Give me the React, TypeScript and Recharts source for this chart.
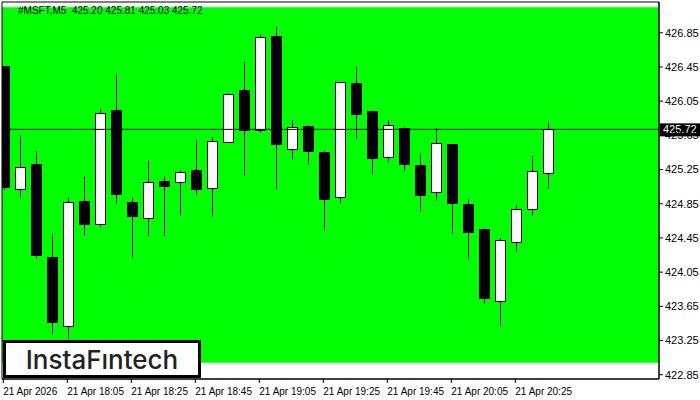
import {
  ComposedChart,
  Bar,
  XAxis,
  YAxis,
  ReferenceLine,
  ReferenceArea,
} from 'recharts';

// M5 candles, 21 Apr 17:45 .. 20:35
const opens = [
  426.46, 425.02, 425.31, 424.23, 423.42, 424.88, 424.61, 425.95, 424.87, 424.68,
  425.12, 425.1, 425.25, 425.03, 425.57, 426.18, 425.71, 426.81, 425.49, 425.76,
  425.46, 424.93, 426.26, 425.93, 425.4, 425.74, 425.3, 424.99, 425.55, 424.85,
  424.56, 423.72, 424.4, 424.78, 425.2,
];
const highs = [
  426.46, 425.65, 425.46, 424.5, 424.92, 425.17, 425.96, 426.37, 424.93, 425.36,
  425.17, 425.24, 425.59, 425.63, 426.14, 426.51, 426.83, 426.92, 425.83, 425.77,
  425.47, 426.27, 426.45, 425.94, 425.83, 425.74, 425.43, 425.73, 425.55, 424.9,
  424.56, 424.45, 424.83, 425.41, 425.81,
];
const lows = [
  425.01, 424.92, 424.21, 423.33, 423.27, 424.48, 424.58, 424.85, 424.22, 424.47,
  424.47, 424.71, 424.95, 424.7, 425.56, 425.18, 425.68, 425.02, 425.37, 425.31,
  424.54, 424.85, 425.61, 425.2, 425.34, 425.23, 424.76, 424.89, 424.5, 424.2,
  423.68, 423.42, 424.29, 424.71, 425.03,
];
const closes = [
  425.03, 425.28, 424.23, 423.46, 424.87, 424.6, 425.91, 424.95, 424.69, 425.1,
  425.05, 425.22, 425.02, 425.58, 426.13, 425.7, 426.8, 425.53, 425.75, 425.46,
  424.9, 426.27, 425.89, 425.37, 425.77, 425.31, 424.94, 425.56, 424.85, 424.51,
  423.74, 424.43, 424.79, 425.23, 425.72,
];

const timeTicks = [0, 4, 8, 12, 16, 20, 24, 28, 32];
const timeLabels = [
  '21 Apr 2026',
  '21 Apr 18:05',
  '21 Apr 18:25',
  '21 Apr 18:45',
  '21 Apr 19:05',
  '21 Apr 19:25',
  '21 Apr 19:45',
  '21 Apr 20:05',
  '21 Apr 20:25',
];
const priceTicks = [
  422.85, 423.25, 423.65, 424.05, 424.45, 424.85, 425.25, 425.65, 426.05, 426.45, 426.85,
];
const lastPrice = 425.72;
const yMin = 422.8;
const yMax = 427.21;
const xMin = -0.08;
const xMax = 40.98;

const data = opens.map((o, i) => ({
  i,
  open: o,
  high: highs[i],
  low: lows[i],
  close: closes[i],
}));

const FONT = '"Liberation Sans", "DejaVu Sans", sans-serif';

const Candle = (props: any) => {
  const { x, width, y, height, payload } = props;
  if (payload == null || y == null) return null;
  const cx = Math.round(x + width / 2) + 0.5;
  const { open, high, low, close } = payload;
  const py = (p: number) => y + ((high - p) / (high - low)) * height;
  const top = py(Math.max(open, close));
  const bot = py(Math.min(open, close));
  const up = close >= open;
  return (
    <g>
      <line x1={cx} x2={cx} y1={y} y2={y + height} stroke="#000" strokeWidth={1} />
      {up ? (
        <rect
          x={cx - 5}
          y={Math.round(top) + 0.5}
          width={10}
          height={Math.max(1, Math.round(bot - top))}
          fill="#fff"
          stroke="#000"
          strokeWidth={1}
        />
      ) : (
        <rect
          x={cx - 5.5}
          y={Math.round(top)}
          width={11}
          height={Math.max(1, Math.round(bot - top))}
          fill="#000"
        />
      )}
    </g>
  );
};

const TimeTick = (props: any) => {
  const { x, y, payload } = props;
  const idx = timeTicks.indexOf(payload.value);
  return (
    <text x={x} y={y + 10} fontSize={10} fontFamily={FONT} fill="#000" textAnchor="start">
      {timeLabels[idx]}
    </text>
  );
};

const PriceLabel = (props: any) => {
  const { viewBox } = props;
  const x = viewBox.x + viewBox.width + 1;
  const y = viewBox.y;
  return (
    <g>
      <rect x={x} y={y - 6} width={40} height={13} fill="#000" />
      <text x={x + 3} y={y + 4} fontSize={11} fontFamily={FONT} fill="#fff">
        {lastPrice.toFixed(2)}
      </text>
    </g>
  );
};

export default function App() {
  return (
    <div style={{ position: 'absolute', left: 0, top: 0, width: 700, height: 400, background: '#fff' }}>
      <ComposedChart
        width={700}
        height={400}
        data={data}
        margin={{ top: 2, right: 0, bottom: 0, left: 2 }}
      >
        <ReferenceArea y1={422.99} y2={427.15} fill="#00ff00" fillOpacity={1} stroke="none" />
        <XAxis
          dataKey="i"
          type="number"
          domain={[xMin, xMax]}
          ticks={timeTicks}
          interval={0}
          height={21}
          tick={<TimeTick />}
          tickSize={4}
          axisLine={{ stroke: '#000' }}
          tickLine={{ stroke: '#000' }}
          allowDataOverflow
        />
        <YAxis
          orientation="right"
          type="number"
          domain={[yMin, yMax]}
          ticks={priceTicks}
          interval={0}
          width={41}
          tickSize={4}
          tickMargin={2}
          tick={{ fontSize: 11, fontFamily: FONT, fill: '#000' }}
          tickFormatter={(v: number) => v.toFixed(2)}
          axisLine={{ stroke: '#000' }}
          tickLine={{ stroke: '#000' }}
          allowDataOverflow
        />
        <Bar
          dataKey={(d: any) => [d.low, d.high]}
          barSize={11}
          shape={<Candle />}
          isAnimationActive={false}
        />
        <ReferenceLine y={lastPrice} stroke="#000" strokeWidth={1} label={<PriceLabel />} />
        <ReferenceArea y1={yMin} y2={yMax} fill="none" stroke="#000" strokeWidth={1} />
      </ComposedChart>
      <div
        style={{
          position: 'absolute',
          left: 18,
          top: 5,
          fontSize: 10,
          fontFamily: FONT,
          color: '#000',
          whiteSpace: 'pre',
        }}
      >
        {'#MSFT,M5  425.20 425.81 425.03 425.72'}
      </div>
      <div
        style={{
          position: 'absolute',
          left: 3,
          top: 340,
          width: 192,
          height: 32,
          border: '3px solid #000',
          background: '#fff',
          display: 'flex',
          alignItems: 'center',
          justifyContent: 'center',
          fontFamily: 'Inter, Lato, sans-serif',
          fontWeight: 500,
          fontSize: 26,
          color: '#222',
        }}
      >
        InstaFıntech
      </div>
    </div>
  );
}
